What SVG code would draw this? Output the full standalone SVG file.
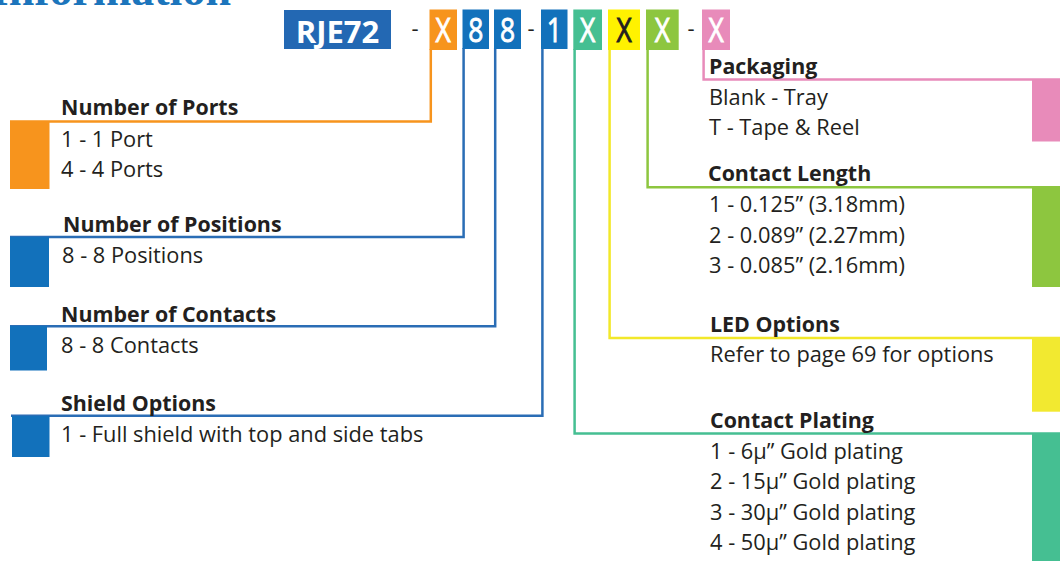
<svg xmlns="http://www.w3.org/2000/svg" width="1060" height="561" viewBox="0 0 1060 561">
<style>
.t{font-family:"Open Sans","Liberation Sans",sans-serif;font-size:21.8px;fill:#231f20}
.h{font-family:"Open Sans","Liberation Sans",sans-serif;font-size:21.4px;font-weight:bold;fill:#231f20}
.bx{font-family:"Open Sans","Liberation Sans",sans-serif;font-size:33px;fill:#fff;stroke:#fff;stroke-width:0.9px;text-anchor:middle}
.dk{fill:#231f20;stroke:#231f20}
.dash{font-family:"Open Sans","Liberation Sans",sans-serif;font-size:22px;fill:#231f20;text-anchor:middle}
.ln{fill:none;stroke-width:2.5}
.title{font-family:"Liberation Serif",serif;font-weight:bold;font-size:46px;fill:#1c75bc;text-anchor:end}
</style>
<rect width="1060" height="561" fill="#fff"/>
<text class="title" x="231" y="4.5">Information</text>

<g id="connectors">
<path class="ln" stroke="#f7941d" d="M430.8,49 V121.6 H10"/>
<path class="ln" stroke="#2a6db5" d="M463.6,48 V237 H10"/>
<path class="ln" stroke="#2a6db5" d="M495.2,48 V326.3 H10"/>
<path class="ln" stroke="#2a6db5" d="M542.4,48 V415.7 H11"/>
<path class="ln" stroke="#45bf92" d="M574.6,49 V433.6 H1060"/>
<path class="ln" stroke="#f2e82a" d="M609.6,49 V338 H1060"/>
<path class="ln" stroke="#8dc63f" d="M647.6,49 V187.2 H1060"/>
<path class="ln" stroke="#e88bba" d="M703.6,49 V79.6 H1060"/>
</g>

<g id="code">
<rect x="284" y="10" width="107" height="39" fill="#2368b3"/>
<text x="337.5" y="42.5" font-family="'Open Sans','Liberation Sans',sans-serif" font-size="31" font-weight="bold" fill="#fff" text-anchor="middle">RJE72</text>
<text class="dash" x="415" y="36">-</text>
<rect x="429.5" y="9.5" width="27.5" height="40.5" fill="#f7941d"/>
<text class="bx" transform="translate(443.2 41.7) scale(0.8 1)">X</text>
<rect x="462.5" y="9.5" width="26.5" height="39.5" fill="#1271bb"/>
<text class="bx" transform="translate(475.8 41.7) scale(0.8 1)">8</text>
<rect x="494" y="9.5" width="27" height="39.5" fill="#1271bb"/>
<text class="bx" transform="translate(507.5 41.7) scale(0.8 1)">8</text>
<text class="dash" x="531" y="36">-</text>
<rect x="541" y="9.5" width="26.5" height="39.5" fill="#1271bb"/>
<text class="bx" transform="translate(554.2 41.7) scale(0.8 1)">1</text>
<rect x="573.3" y="9.5" width="28.7" height="40.5" fill="#45bf92"/>
<text class="bx" transform="translate(587.6 41.7) scale(0.8 1)">X</text>
<rect x="608" y="9.5" width="32" height="40.5" fill="#fff200"/>
<text class="bx dk" transform="translate(624 41.7) scale(0.8 1)">X</text>
<rect x="646" y="9.5" width="32.7" height="40.5" fill="#8dc63f"/>
<text class="bx" transform="translate(662.3 41.7) scale(0.8 1)">X</text>
<text class="dash" x="691" y="36">-</text>
<rect x="702" y="9.5" width="28" height="40.5" fill="#e88bba"/>
<text class="bx" transform="translate(716 41.7) scale(0.8 1)">X</text>
</g>

<g id="ports">
<rect x="10" y="121" width="39.5" height="68" fill="#f7941d"/>
<text class="h" x="61" y="115">Number of Ports</text>
<text class="t" x="61" y="146.5">1 - 1 Port</text>
<text class="t" x="61" y="176.5">4 - 4 Ports</text>
</g>
<g id="positions">
<rect x="10" y="237" width="39" height="50" fill="#1271bb"/>
<text class="h" x="63" y="231.7">Number of Positions</text>
<text class="t" x="62" y="263.3">8 - 8 Positions</text>
</g>
<g id="contacts">
<rect x="10" y="326" width="37" height="44.5" fill="#1271bb"/>
<text class="h" x="61" y="321.5">Number of Contacts</text>
<text class="t" x="61" y="352.5">8 - 8 Contacts</text>
</g>
<g id="shield">
<rect x="12" y="416" width="37.5" height="41" fill="#1271bb"/>
<text class="h" x="61" y="410.5">Shield Options</text>
<text class="t" x="61" y="441.5">1 - Full shield with top and side tabs</text>
</g>

<g id="packaging">
<rect x="1032" y="79" width="28" height="62.5" fill="#e88bba"/>
<text class="h" x="709" y="73.5">Packaging</text>
<text class="t" x="709" y="105">Blank - Tray</text>
<text class="t" x="709" y="135">T - Tape &amp; Reel</text>
</g>
<g id="contact-length">
<rect x="1032" y="187" width="28" height="100" fill="#8dc63f"/>
<text class="h" x="708" y="180.5">Contact Length</text>
<text class="t" x="709" y="211.7">1 - 0.125” (3.18mm)</text>
<text class="t" x="709" y="242.5">2 - 0.089” (2.27mm)</text>
<text class="t" x="709" y="273">3 - 0.085” (2.16mm)</text>
</g>
<g id="led">
<rect x="1032" y="337" width="28" height="74.7" fill="#f2e930"/>
<text class="h" x="710" y="331.5">LED Options</text>
<text class="t" x="710" y="362">Refer to page 69 for options</text>
</g>
<g id="plating">
<rect x="1032" y="433.5" width="28" height="127.5" fill="#45bf92"/>
<text class="h" x="710" y="428">Contact Plating</text>
<text class="t" x="710" y="458.5">1 - 6µ” Gold plating</text>
<text class="t" x="710" y="489.3">2 - 15µ” Gold plating</text>
<text class="t" x="710" y="519.5">3 - 30µ” Gold plating</text>
<text class="t" x="710" y="550">4 - 50µ” Gold plating</text>
</g>
</svg>
